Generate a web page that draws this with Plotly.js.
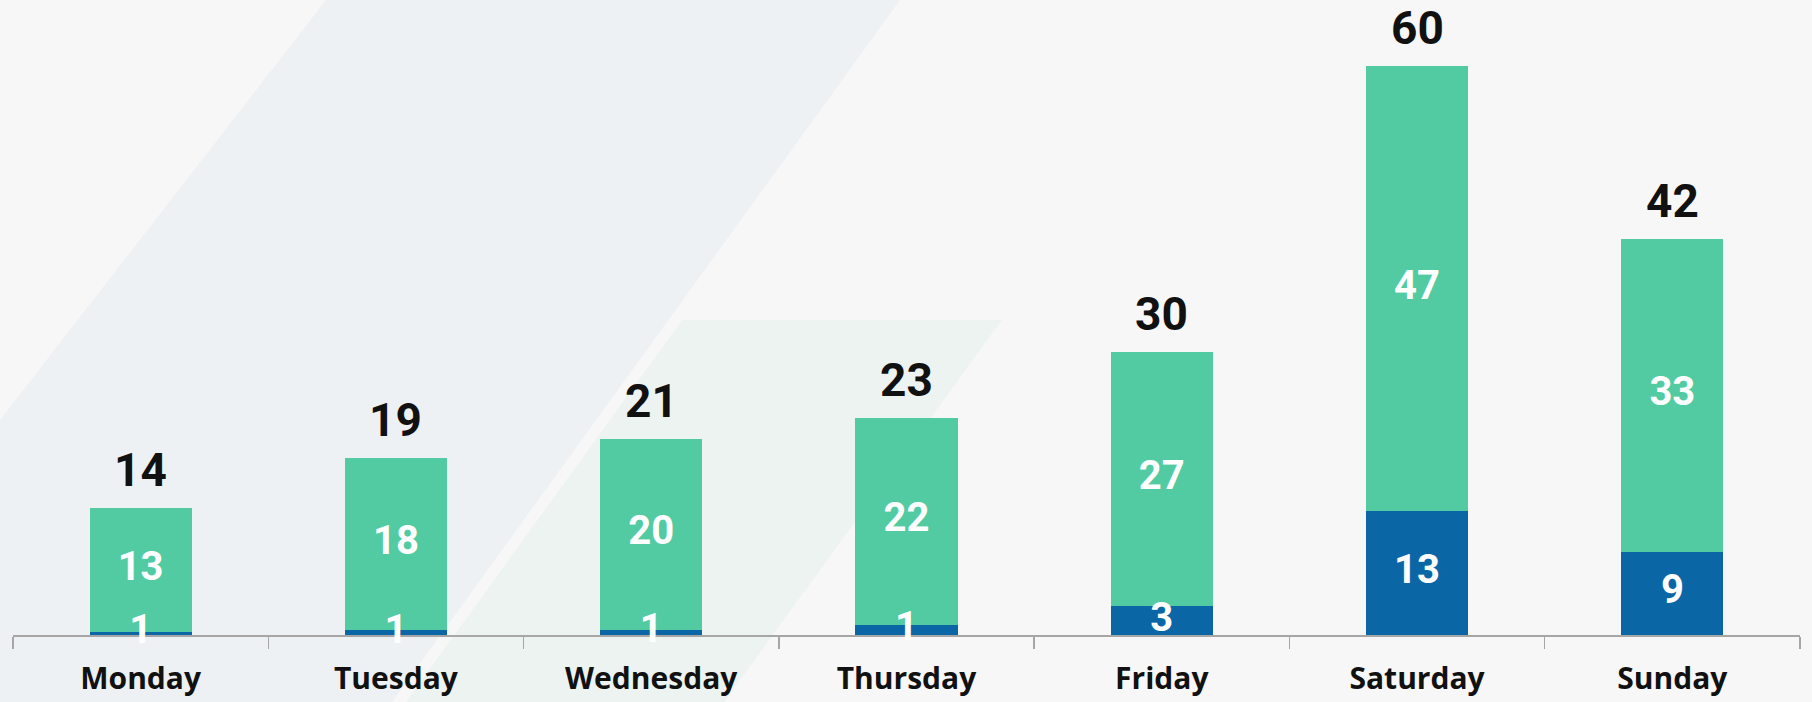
<!DOCTYPE html>
<html>
<head>
<meta charset="utf-8">
<script src="https://cdn.plot.ly/plotly-3.0.1.min.js"></script>
<style>
  html, body { margin: 0; padding: 0; background: #f7f7f7; }
  #chart { width: 1812px; height: 702px; }
</style>
</head>
<body>
<div id="chart"></div>
<script>
// Categories
const days = ["Monday", "Tuesday", "Wednesday", "Thursday", "Friday", "Saturday", "Sunday"];

// Bar heights (segments are unrounded)
const blueValues  = [0.35, 0.5, 0.58, 1.1, 3.05, 13.05, 8.8];
const greenValues = [13.05, 18.2, 20.1, 21.8, 26.85, 46.95, 33.0];

// Labels as printed on the chart
const blueLabels  = [1, 1, 1, 1, 3, 13, 9];
const greenLabels = [13, 18, 20, 22, 27, 47, 33];
const totalLabels = blueLabels.map((b, i) => b + greenLabels[i]);
const totalHeights = blueValues.map((b, i) => b + greenValues[i]);

// label anchor positions derived from the data (segment midpoints)
const blueMid  = blueValues.map(v => v / 2);
const greenMid = greenValues.map((v, i) => blueValues[i] + v / 2);

const W = 1812, H = 702;
const M = { l: 13, r: 12, t: 0, b: 67 };
const plotW = W - M.l - M.r, plotH = H - M.t - M.b;
function px(x) { return (x - M.l) / plotW; }
function py(y) { return (plotH + M.t - y) / plotH; }
function poly(pts) {
  return "M " + pts.map(p => px(p[0]).toFixed(4) + "," + py(p[1]).toFixed(4)).join(" L ") + " Z";
}

const numFont = "Roboto, Open Sans, sans-serif";
const labFont = "Open Sans, sans-serif";

const traceBlue = {
  type: "bar", x: days, y: blueValues, name: "A",
  marker: { color: "#0b66a6", line: { width: 0 } },
  hoverinfo: "skip"
};
const traceGreen = {
  type: "bar", x: days, y: greenValues, name: "B",
  marker: { color: "#52cba3", line: { width: 0 } },
  hoverinfo: "skip"
};
const textGreen = {
  type: "scatter", mode: "text", x: days, y: greenMid,
  text: greenLabels.map(String), textposition: "middle center",
  cliponaxis: false,
  textfont: { family: numFont, size: 40, color: "#ffffff", weight: 700 },
  hoverinfo: "skip"
};
const textBlue = {
  type: "scatter", mode: "text", x: days, y: blueMid,
  text: blueLabels.map(String), textposition: "middle center",
  cliponaxis: false,
  textfont: { family: numFont, size: 40, color: "#ffffff", weight: 700 },
  hoverinfo: "skip"
};

const annotations = days.map((d, i) => ({
  x: d, y: totalHeights[i], xref: "x", yref: "y",
  text: String(totalLabels[i]),
  showarrow: false, yanchor: "middle", yshift: 38,
  font: { family: numFont, size: 46, color: "#111111", weight: 700 }
}));

const shapes = [
  { type: "path", xref: "paper", yref: "paper", layer: "below",
    path: poly([[326, 0], [900, 0], [392, 702], [0, 702], [0, 420]]),
    fillcolor: "#edf1f4", line: { width: 0 } },
  { type: "path", xref: "paper", yref: "paper", layer: "below",
    path: poly([[682, 320], [1002, 320], [724, 702], [406, 702]]),
    fillcolor: "#edf3f1", line: { width: 0 } }
];

const layout = {
  width: W, height: H,
  margin: M,
  paper_bgcolor: "#f7f7f7",
  plot_bgcolor: "rgba(0,0,0,0)",
  barmode: "stack",
  bargap: 0.6,
  showlegend: false,
  shapes: shapes,
  annotations: annotations,
  xaxis: {
    type: "category",
    range: [-0.5, 6.5],
    layer: "below traces",
    showgrid: false,
    zeroline: false,
    showline: true,
    linecolor: "#a6a6a6",
    linewidth: 2,
    ticks: "outside",
    tickson: "boundaries",
    ticklen: 12,
    tickwidth: 1.5,
    tickcolor: "#a6a6a6",
    ticklabelstandoff: 16,
    tickfont: { family: labFont, size: 30, color: "#111111", weight: 700 },
    fixedrange: true
  },
  yaxis: {
    range: [0, 67],
    visible: false,
    showgrid: false,
    zeroline: false,
    fixedrange: true
  }
};

Plotly.newPlot("chart", [traceBlue, traceGreen, textGreen, textBlue], layout, { displayModeBar: false, staticPlot: true });
</script>
</body>
</html>
